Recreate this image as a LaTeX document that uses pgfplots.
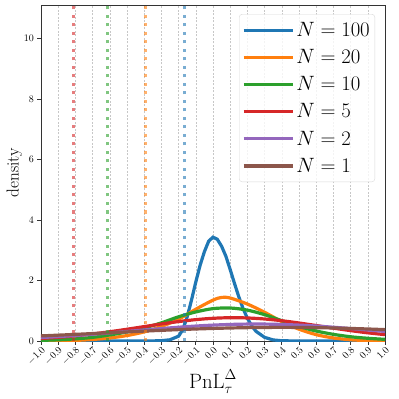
\documentclass[border=0pt]{standalone}
\usepackage{pgfplots}
\pgfplotsset{compat=1.18}
\definecolor{tabblue}{HTML}{1F77B4}
\definecolor{taborange}{HTML}{FF7F0E}
\definecolor{tabgreen}{HTML}{2CA02C}
\definecolor{tabred}{HTML}{D62728}
\definecolor{tabpurple}{HTML}{9467BD}
\definecolor{tabbrown}{HTML}{8C564B}
\begin{document}
\begin{tikzpicture}
\begin{axis}[
    scale only axis,
    width=344pt, height=336pt,
    xmin=-1, xmax=1,
    ymin=0, ymax=11.1,
    xtick={-1,-0.9,...,1.01},
    ytick={0,2,4,6,8,10},
    xticklabel style={rotate=45, anchor=north east, font=\normalsize, inner sep=1pt},
    yticklabel style={font=\normalsize},
    x tick label style={/pgf/number format/.cd, fixed, fixed zerofill, precision=1},
    tick align=outside,
    xtick pos=bottom, ytick pos=left,
    major tick length=3.5pt,
    tick style={black!80, line width=0.6pt},
    axis line style={black!80, line width=0.8pt},
    xmajorgrids,
    grid style={black!22, line width=0.5pt, dash pattern=on 2pt off 1.5pt},
    xlabel={$\mathrm{PnL}_\tau^\Delta$},
    ylabel={density},
    xlabel style={font=\huge, yshift=1pt},
    ylabel style={font=\LARGE, yshift=-5pt},
    legend style={at={(0.971,0.973)}, anchor=north east, draw=black!15,
        rounded corners=3pt, fill=white, fill opacity=0.8, text opacity=1,
        font=\fontsize{19.5}{22}\selectfont, row sep=7.5pt, inner xsep=3pt, inner ysep=6pt},
    legend cell align=left,
    legend image code/.code={\draw[#1, line width=3.2pt] (0pt,0pt) -- (43pt,0pt);
        \path (0pt,0pt) -- (49pt,0pt);},
]
% distributions
\addplot[tabblue, line width=3.2pt] coordinates {
(-1,0) (-0.5,0) (-0.4,0.001) (-0.35,0.003) (-0.3,0.01) (-0.25,0.04) (-0.2,0.16)
(-0.175,0.38) (-0.15,0.8) (-0.125,1.35) (-0.1,1.95) (-0.075,2.5) (-0.05,2.95)
(-0.025,3.3) (0,3.43) (0.025,3.36) (0.05,3.13) (0.075,2.8) (0.1,2.36) (0.125,1.9)
(0.15,1.46) (0.175,1.07) (0.2,0.75) (0.225,0.5) (0.25,0.32) (0.3,0.12) (0.35,0.035)
(0.4,0.008) (0.5,0) (1,0)
};
\addlegendentry{$N=100$}
\addplot[taborange, line width=3.2pt, smooth] coordinates {
(-1,0.003) (-0.9,0.008) (-0.8,0.02) (-0.7,0.05) (-0.6,0.1) (-0.5,0.18) (-0.4,0.3)
(-0.3,0.48) (-0.2,0.72) (-0.1,1.05) (0,1.35) (0.05,1.44) (0.1,1.42) (0.2,1.22)
(0.3,0.95) (0.4,0.64) (0.5,0.39) (0.6,0.21) (0.7,0.1) (0.8,0.04) (0.9,0.014) (1,0.005)
};
\addlegendentry{$N=20$}
\addplot[tabgreen, line width=3.2pt, smooth] coordinates {
(-1,0.02) (-0.9,0.04) (-0.8,0.07) (-0.7,0.12) (-0.6,0.2) (-0.5,0.3) (-0.4,0.43)
(-0.3,0.6) (-0.2,0.8) (-0.1,0.96) (0,1.07) (0.1,1.09) (0.2,1.02) (0.3,0.87)
(0.4,0.67) (0.5,0.48) (0.6,0.33) (0.7,0.22) (0.8,0.14) (0.9,0.09) (1,0.055)
};
\addlegendentry{$N=10$}
\addplot[tabred, line width=3.2pt, smooth] coordinates {
(-1,0.083) (-0.9,0.121) (-0.8,0.171) (-0.7,0.233) (-0.6,0.306) (-0.5,0.389)
(-0.4,0.476) (-0.3,0.563) (-0.2,0.642) (-0.1,0.706) (0,0.75) (0.1,0.77) (0.2,0.761)
(0.3,0.727) (0.4,0.67) (0.5,0.595) (0.6,0.511) (0.7,0.425) (0.8,0.343) (0.9,0.27) (1,0.21)
};
\addlegendentry{$N=5$}
\addplot[tabpurple, line width=3.2pt, smooth] coordinates {
(-1,0.114) (-0.9,0.145) (-0.8,0.182) (-0.7,0.223) (-0.6,0.268) (-0.5,0.315)
(-0.4,0.364) (-0.3,0.411) (-0.2,0.455) (-0.1,0.494) (0,0.525) (0.1,0.547) (0.2,0.559)
(0.3,0.559) (0.4,0.547) (0.5,0.525) (0.6,0.494) (0.7,0.455) (0.8,0.411) (0.9,0.364) (1,0.315)
};
\addlegendentry{$N=2$}
\addplot[tabbrown, line width=3.2pt, smooth] coordinates {
(-1,0.169) (-0.9,0.193) (-0.8,0.219) (-0.7,0.246) (-0.6,0.273) (-0.5,0.3)
(-0.4,0.327) (-0.3,0.352) (-0.2,0.376) (-0.1,0.397) (0,0.415) (0.1,0.43) (0.2,0.441)
(0.3,0.448) (0.4,0.45) (0.5,0.448) (0.6,0.441) (0.7,0.43) (0.8,0.415) (0.9,0.397) (1,0.376)
};
\addlegendentry{$N=1$}
% quantile markers
\addplot[tabred, opacity=0.6, line width=3pt, line cap=butt, dash pattern=on 3pt off 5.5pt, forget plot]
  coordinates {(-0.81,0) (-0.81,11.1)};
\addplot[tabgreen, opacity=0.6, line width=3pt, line cap=butt, dash pattern=on 3pt off 5.5pt, forget plot]
  coordinates {(-0.615,0) (-0.615,11.1)};
\addplot[taborange, opacity=0.6, line width=3pt, line cap=butt, dash pattern=on 3pt off 5.5pt, forget plot]
  coordinates {(-0.39,0) (-0.39,11.1)};
\addplot[tabblue, opacity=0.6, line width=3pt, line cap=butt, dash pattern=on 3pt off 5.5pt, forget plot]
  coordinates {(-0.165,0) (-0.165,11.1)};
\end{axis}
\pgfresetboundingbox
\path[use as bounding box] ([shift={(-41pt,-58pt)}]current axis.south west)
  rectangle ([shift={(14pt,5pt)}]current axis.north east);
\end{tikzpicture}
\end{document}
